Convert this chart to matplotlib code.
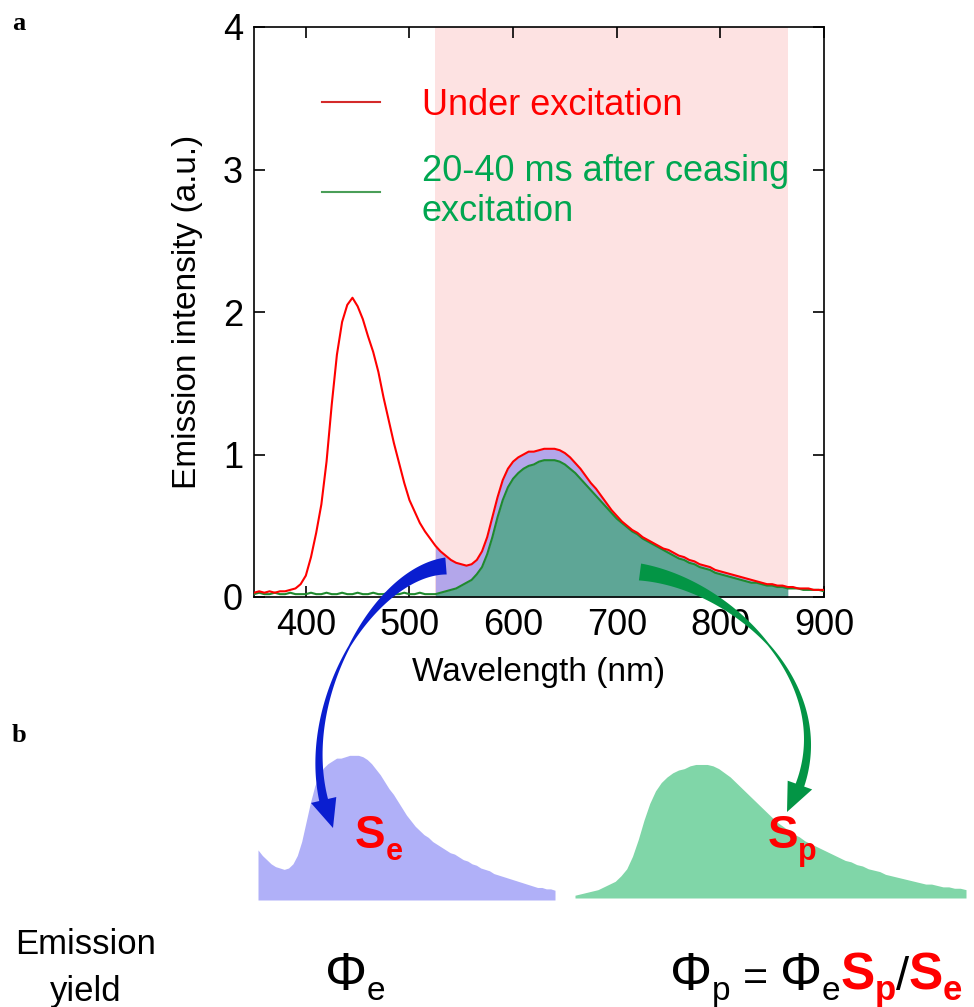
import matplotlib
matplotlib.use("Agg")
import matplotlib.pyplot as plt
from matplotlib.patches import Polygon
import numpy as np

plt.rcParams["font.family"] = ["Liberation Sans", "DejaVu Sans"]

# ---- data ----
wavelength = np.arange(350, 901, 5)

under_exc = [
    0.03, 0.04, 0.03, 0.04, 0.03, 0.04, 0.04, 0.05, 0.06, 0.09,   # 350-395
    0.15, 0.28, 0.45, 0.65, 0.95, 1.35, 1.70, 1.93, 2.05, 2.10,   # 400-445
    2.04, 1.95, 1.83, 1.72, 1.58, 1.40, 1.24, 1.08, 0.94, 0.80,   # 450-495
    0.68, 0.60, 0.52, 0.46, 0.41, 0.36, 0.32, 0.29, 0.26, 0.24,   # 500-545
    0.23, 0.22, 0.23, 0.26, 0.32, 0.42, 0.56, 0.70, 0.82, 0.90,   # 550-595
    0.95, 0.98, 1.00, 1.02, 1.02, 1.03, 1.04, 1.04, 1.04, 1.03,   # 600-645
    1.01, 0.98, 0.94, 0.90, 0.85, 0.80, 0.76, 0.71, 0.66, 0.61,   # 650-695
    0.57, 0.53, 0.50, 0.47, 0.45, 0.42, 0.40, 0.38, 0.36, 0.34,   # 700-745
    0.33, 0.31, 0.29, 0.28, 0.26, 0.25, 0.23, 0.22, 0.21, 0.19,   # 750-795
    0.18, 0.17, 0.16, 0.15, 0.14, 0.13, 0.12, 0.11, 0.10, 0.09,   # 800-845
    0.09, 0.08, 0.08, 0.07, 0.07, 0.06, 0.06, 0.06, 0.05, 0.05,   # 850-895
    0.05,                                                          # 900
]

after_exc = [
    0.02, 0.03, 0.02, 0.02, 0.03, 0.02, 0.02, 0.03, 0.02, 0.02,   # 350-395
    0.02, 0.03, 0.02, 0.02, 0.03, 0.02, 0.02, 0.03, 0.02, 0.02,   # 400-445
    0.03, 0.02, 0.02, 0.03, 0.02, 0.02, 0.03, 0.02, 0.02, 0.03,   # 450-495
    0.02, 0.02, 0.03, 0.02, 0.02, 0.02, 0.03, 0.04, 0.05, 0.06,   # 500-545
    0.08, 0.10, 0.12, 0.16, 0.21, 0.30, 0.42, 0.56, 0.68, 0.77,   # 550-595
    0.83, 0.87, 0.90, 0.92, 0.93, 0.95, 0.96, 0.96, 0.96, 0.95,   # 600-645
    0.93, 0.90, 0.87, 0.83, 0.79, 0.75, 0.71, 0.67, 0.63, 0.59,   # 650-695
    0.55, 0.52, 0.49, 0.46, 0.44, 0.41, 0.39, 0.37, 0.35, 0.33,   # 700-745
    0.31, 0.29, 0.27, 0.26, 0.24, 0.23, 0.21, 0.20, 0.19, 0.17,   # 750-795
    0.16, 0.15, 0.14, 0.13, 0.12, 0.11, 0.10, 0.10, 0.09, 0.08,   # 800-845
    0.08, 0.07, 0.07, 0.06, 0.06, 0.06, 0.05, 0.05, 0.05, 0.05,   # 850-895
    0.04,                                                          # 900
]

window = (525, 865)  # integration window (nm)
labels = ["Under excitation", "20-40 ms after ceasing\nexcitation"]

RED = "#ff0000"
GREEN_LINE = "#1f8a2e"
GREEN_TEXT = "#00a650"

under_exc = np.array(under_exc)
after_exc = np.array(after_exc)
in_win = (wavelength >= window[0]) & (wavelength <= window[1])

fig = plt.figure(figsize=(9.74, 10.07), dpi=100)
W, H = 974, 1007


def fx(px):
    return px / W


def fy(py):
    return 1 - py / H


# ---- panel a ----
ax = fig.add_axes([fx(254), fy(597), 570 / W, 570 / H])
ax.axvspan(*window, color="#fde2e2", lw=0, zorder=0)
ax.fill_between(wavelength[in_win], under_exc[in_win], color="#b3a6ea", lw=0, zorder=1)
ax.fill_between(wavelength[in_win], after_exc[in_win], color="#5ea696", lw=0, zorder=2)
ax.plot(wavelength, after_exc, color=GREEN_LINE, lw=1.5, zorder=3, label=labels[1])
ax.plot(wavelength, under_exc, color=RED, lw=1.5, zorder=4, label=labels[0])

ax.set_xlim(350, 900)
ax.set_ylim(0, 4)
ax.set_xticks([400, 500, 600, 700, 800, 900])
ax.set_yticks([0, 1, 2, 3, 4])
ax.tick_params(direction="in", length=8, width=1.2, top=True, right=True,
               labelsize=26, pad=8)
for s in ax.spines.values():
    s.set_linewidth(1.2)
ax.set_xlabel("Wavelength (nm)", fontsize=24, labelpad=10)
ax.set_ylabel("Emission intensity (a.u.)", fontsize=24, labelpad=14)

h, l = ax.get_legend_handles_labels()
leg = ax.legend(h[::-1], l[::-1], loc="upper left", bbox_to_anchor=(0.088, 0.925),
                frameon=False, fontsize=26, handlelength=1.6, handletextpad=1.15,
                labelspacing=0.85, borderpad=0, labelcolor=[RED, GREEN_TEXT])
leg.get_lines()[0].set_color("#d42a2a")
leg.get_lines()[1].set_color("#4a9e58")

fig.text(fx(12), fy(24), "a", fontsize=19, fontweight="bold",
         family="Liberation Serif", va="center")
fig.text(fx(12), fy(735), "b", fontsize=19, fontweight="bold",
         family="Liberation Serif", va="center")

# ---- panel b: integrated spectra ----
axe = fig.add_axes([fx(258), fy(900), 297 / W, 153 / H])
axe.fill_between(wavelength[in_win], under_exc[in_win], color="#b0b0f8", lw=0)
axp = fig.add_axes([fx(575), fy(898), 391 / W, 153 / H])
axp.fill_between(wavelength[in_win], after_exc[in_win], color="#80d6a8", lw=0)
for a in (axe, axp):
    a.set_xlim(*window)
    a.set_ylim(0, 1.1)
    a.axis("off")

renderer = fig.canvas.get_renderer()


def chain(x0, y_px, pieces):
    x = x0
    for s, color, size, weight, dy in pieces:
        t = fig.text(x / W, fy(y_px + dy), s, color=color, fontsize=size,
                     fontweight=weight, va="baseline", ha="left")
        x = t.get_window_extent(renderer).x1


chain(355, 848, [("S", RED, 33, "bold", 0), ("e", RED, 22, "bold", 12)])
chain(768, 848, [("S", RED, 33, "bold", 0), ("p", RED, 22, "bold", 12)])

# ---- bottom row ----
fig.text(fx(86), fy(945), "Emission", fontsize=25, ha="center", va="center")
fig.text(fx(86), fy(992), "yield", fontsize=25, ha="center", va="center")
chain(325, 990, [("Φ", "black", 38, "normal", 0), ("e", "black", 24, "normal", 10)])
chain(670, 990, [("Φ", "black", 38, "normal", 0), ("p", "black", 24, "normal", 10),
                 (" = ", "black", 31, "normal", 0),
                 ("Φ", "black", 38, "normal", 0), ("e", "black", 24, "normal", 10),
                 ("S", RED, 37, "bold", 0), ("p", RED, 25, "bold", 10),
                 ("/", "black", 34, "normal", 0),
                 ("S", RED, 37, "bold", 0), ("e", RED, 25, "bold", 10)])


# ---- curved arrows: thick start, thin middle, widening into a head ----
def curved_arrow(a, c1, c2, b, color, w0=17, wmid=2.0, wend=9, head_w=26, head_len=30):
    a, c1, c2, b = (np.array(p, float) for p in (a, c1, c2, b))
    t = np.linspace(0, 1, 500)[:, None]
    pts = ((1 - t) ** 3 * a + 3 * (1 - t) ** 2 * t * c1
           + 3 * (1 - t) * t ** 2 * c2 + t ** 3 * b)
    tan = (3 * (1 - t) ** 2 * (c1 - a) + 6 * (1 - t) * t * (c2 - c1)
           + 3 * t ** 2 * (b - c2))
    tan /= np.linalg.norm(tan, axis=1, keepdims=True)
    nrm = np.column_stack([-tan[:, 1], tan[:, 0]])
    dist_to_tip = np.linalg.norm(pts - b, axis=1)
    k = np.argmax(dist_to_tip < head_len)  # head base index
    tt = t[:k, 0] / t[k, 0]
    w = np.interp(tt, [0, 0.5, 1], [w0, wmid, wend])[:, None]
    left = pts[:k] + nrm[:k] * w / 2
    right = pts[:k] - nrm[:k] * w / 2
    base, n = pts[k], nrm[k]
    poly = np.vstack([left, base + n * wend / 2, base + n * head_w / 2, b,
                      base - n * head_w / 2, base - n * wend / 2, right[::-1]])
    poly = np.column_stack([fx(poly[:, 0]), fy(poly[:, 1])])
    fig.add_artist(Polygon(poly, closed=True, transform=fig.transFigure,
                           facecolor=color, edgecolor="none", zorder=10))


curved_arrow((446, 566), (370, 572), (285, 720), (333, 828), "#0a1ed0")
curved_arrow((640, 572), (740, 585), (855, 700), (787, 812), "#039545")

fig.savefig("out.png", dpi=100)
